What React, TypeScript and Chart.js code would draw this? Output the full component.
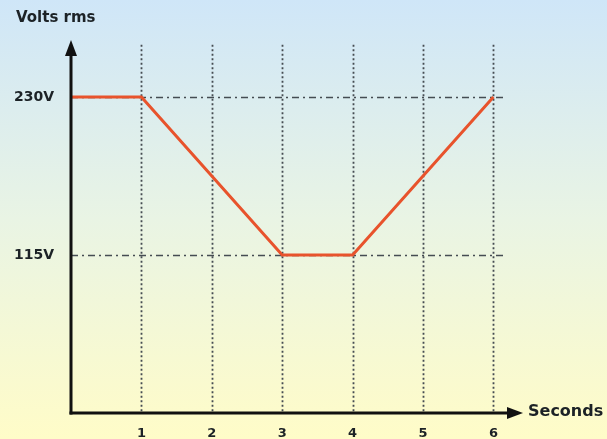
import React, { useEffect, useRef } from "react";
import { Chart, registerables } from "chart.js";

Chart.register(...registerables);

const timeSec = [0, 1, 3, 4, 6];
const voltsRms = [230, 230, 115, 115, 230];
const xTicks = [1, 2, 3, 4, 5, 6];
const yTicks = [115, 230];
const yTickLabels = ["115V", "230V"];
const yTitle = "Volts rms";
const xTitle = "Seconds";

const FONT = "'DejaVu Sans', Verdana, sans-serif";

const decorPlugin = {
  id: "decor",
  beforeDraw(chart: any) {
    const { ctx, width, height } = chart;
    const g = ctx.createLinearGradient(0, 0, 0, height);
    g.addColorStop(0, "#cfe6f8");
    g.addColorStop(0.5, "#e9f4e4");
    g.addColorStop(1, "#fffcc8");
    ctx.save();
    ctx.fillStyle = g;
    ctx.fillRect(0, 0, width, height);
    ctx.restore();
  },
  beforeDatasetsDraw(chart: any) {
    const { ctx } = chart;
    const xs = chart.scales.x;
    const ys = chart.scales.y;
    const y0 = ys.getPixelForValue(0);
    const yTop = ys.getPixelForValue(268);
    const x0 = xs.getPixelForValue(0);
    const xRight = xs.getPixelForValue(6.15);
    ctx.save();
    ctx.strokeStyle = "#454c52";
    ctx.lineWidth = 1.8;
    ctx.setLineDash([2, 2.5]);
    xTicks.forEach((t) => {
      const px = Math.round(xs.getPixelForValue(t)) + 0.5;
      ctx.beginPath();
      ctx.moveTo(px, yTop);
      ctx.lineTo(px, y0);
      ctx.stroke();
    });
    ctx.lineWidth = 1.6;
    ctx.setLineDash([7, 4, 2, 4]);
    yTicks.forEach((t) => {
      const py = Math.round(ys.getPixelForValue(t)) + 0.5;
      ctx.beginPath();
      ctx.moveTo(x0, py);
      ctx.lineTo(xRight, py);
      ctx.stroke();
    });
    ctx.restore();
  },
  afterDatasetsDraw(chart: any) {
    const { ctx, chartArea } = chart;
    const xs = chart.scales.x;
    const ys = chart.scales.y;
    const x0 = xs.getPixelForValue(0);
    const y0 = ys.getPixelForValue(0);
    ctx.save();
    ctx.strokeStyle = "#111";
    ctx.fillStyle = "#111";
    ctx.lineWidth = 3;
    ctx.setLineDash([]);
    // y axis
    ctx.beginPath();
    ctx.moveTo(x0, y0 + 1.5);
    ctx.lineTo(x0, chartArea.top + 12);
    ctx.stroke();
    ctx.beginPath();
    ctx.moveTo(x0, chartArea.top);
    ctx.lineTo(x0 - 6, chartArea.top + 16);
    ctx.lineTo(x0 + 6, chartArea.top + 16);
    ctx.closePath();
    ctx.fill();
    // x axis
    ctx.beginPath();
    ctx.moveTo(x0 - 1.5, y0);
    ctx.lineTo(chartArea.right - 12, y0);
    ctx.stroke();
    ctx.beginPath();
    ctx.moveTo(chartArea.right, y0);
    ctx.lineTo(chartArea.right - 16, y0 - 6);
    ctx.lineTo(chartArea.right - 16, y0 + 6);
    ctx.closePath();
    ctx.fill();

    ctx.fillStyle = "#1c2226";
    ctx.font = `bold 13px ${FONT}`;
    ctx.textAlign = "center";
    ctx.textBaseline = "middle";
    xTicks.forEach((t) => {
      ctx.fillText(String(t), xs.getPixelForValue(t), y0 + 21);
    });
    ctx.font = `bold 14px ${FONT}`;
    ctx.textAlign = "right";
    yTicks.forEach((t, i) => {
      ctx.fillText(yTickLabels[i], x0 - 17, ys.getPixelForValue(t));
    });
    ctx.font = `bold 15px ${FONT}`;
    ctx.textAlign = "left";
    ctx.fillText(yTitle, 16, 18);
    ctx.font = `bold 16px ${FONT}`;
    ctx.fillText(xTitle, chartArea.right + 5, y0 - 1);
    ctx.restore();
  },
};

export default function App() {
  const ref = useRef<HTMLCanvasElement>(null);
  useEffect(() => {
    document.body.style.margin = "0";
    const canvas = ref.current!;
    const chart = new Chart(canvas, {
      type: "line",
      data: {
        datasets: [
          {
            data: timeSec.map((t, i) => ({ x: t, y: voltsRms[i] })),
            borderColor: "#e8532c",
            borderWidth: 3,
            pointRadius: 0,
            tension: 0,
            fill: false,
          },
        ],
      },
      options: {
        responsive: false,
        animation: false,
        layout: { padding: { left: 71, right: 84, top: 40, bottom: 26 } },
        scales: {
          x: { type: "linear", min: 0, max: 6.42, display: false },
          y: { type: "linear", min: 0, max: 271.5, display: false },
        },
        plugins: { legend: { display: false }, tooltip: { enabled: false } },
      },
      plugins: [decorPlugin],
    });
    return () => chart.destroy();
  }, []);
  return (
    <canvas
      ref={ref}
      width={607}
      height={439}
      style={{ display: "block", width: 607, height: 439 }}
    />
  );
}
